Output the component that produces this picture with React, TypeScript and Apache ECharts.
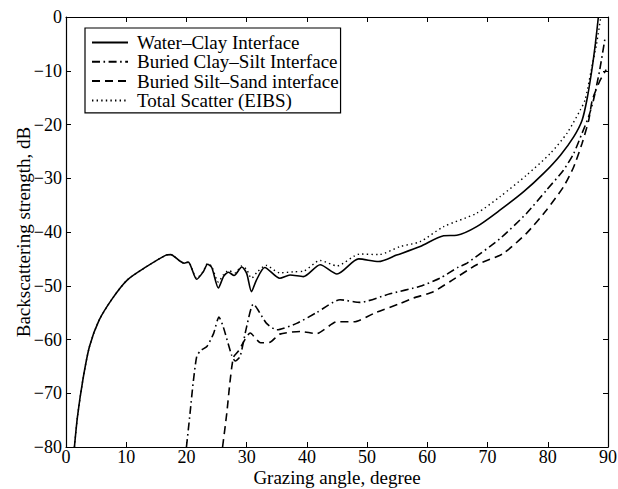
import React, { useEffect, useRef } from "react";
import * as echarts from "echarts";

const seriesNames = [
  "Water–Clay Interface",
  "Buried Clay–Silt Interface",
  "Buried Silt–Sand interface",
  "Total Scatter (EIBS)",
];

// Water–Clay Interface
const angleWC = [1.4, 1.9, 2.8, 3.9, 5.5, 7.75, 10.2, 13.3, 16.6, 17.4, 18.9, 19.6, 20.3, 21.7, 22.8, 23.5, 24.2, 25.3, 26.2, 27.0, 27.9, 29.2, 30.0, 30.8, 31.6, 33.0, 35.5, 37.2, 39.4, 42.2, 45.0, 48.6, 51.9, 54.9, 58.8, 62.7, 64.9, 68.2, 72.1, 76.0, 79.3, 82.1, 84.3, 85.7, 86.5, 87.3, 87.9, 88.4];
const dbWC = [-80, -74.4, -67.5, -61.3, -56.4, -52.3, -48.9, -46.5, -44.3, -44.2, -45.4, -45.8, -45.6, -48.8, -47.4, -46.0, -46.6, -50.4, -48.2, -47.5, -48.1, -46.5, -47.7, -51.1, -49.0, -46.6, -48.6, -48.0, -48.3, -46.1, -47.8, -45.0, -45.5, -44.3, -42.7, -40.7, -40.6, -39.0, -35.9, -32.5, -29.1, -25.7, -22.3, -19.2, -15.4, -10, -5, 0];

// Buried Clay–Silt Interface
const angleCS = [20.0, 20.6, 21.1, 21.7, 22.3, 23.4, 24.5, 25.4, 26.1, 27.5, 28.1, 28.9, 30.0, 31.1, 33.3, 35.0, 38.3, 41.6, 45.5, 48.8, 53.8, 58.8, 62.1, 65.2, 66.6, 72.1, 76.5, 79.8, 82.6, 84.3, 85.7, 86.8, 87.6, 88.6, 89.5];
const dbCS = [-80, -73.7, -68.2, -63.2, -62.1, -61.3, -58.9, -55.8, -57.6, -62.9, -64.0, -63.2, -57.6, -53.4, -57.0, -58.2, -57.0, -55.0, -52.6, -53.1, -51.5, -50.1, -48.6, -46.5, -45.8, -41.2, -36.5, -32.2, -28.5, -25.4, -21.6, -18.5, -15.4, -10, -4];

// Buried Silt–Sand interface
const angleSS = [26.0, 26.7, 27.2, 27.8, 28.6, 30.6, 32.3, 33.9, 35.5, 38.9, 41.6, 45.0, 47.8, 51.6, 55.5, 57.7, 61.0, 63.8, 68.2, 72.6, 76.5, 79.8, 82.6, 84.3, 85.7, 86.8, 87.4, 88.6, 89.7];
const dbSS = [-80, -73.7, -68.2, -63.3, -62.2, -58.8, -60.6, -60.5, -59.0, -58.5, -58.9, -56.7, -56.7, -54.9, -53.3, -52.3, -51.1, -49.2, -46.1, -44.0, -40.2, -35.9, -31.6, -27.9, -23.5, -19.2, -15.4, -12, -9.8];

// Total Scatter (EIBS)
const angleTS = [1.4, 1.9, 2.8, 3.9, 5.5, 7.75, 10.2, 13.3, 16.6, 17.4, 18.9, 19.6, 20.3, 21.7, 22.8, 23.5, 24.2, 25.3, 26.1, 27.0, 28.1, 29.2, 30.0, 30.8, 31.8, 33.2, 35.5, 37.8, 39.4, 42.2, 45.0, 48.8, 51.9, 55.5, 58.8, 62.7, 68.2, 72.1, 76.5, 80.4, 83.2, 85.4, 86.2, 87.2, 88.1, 88.8];
const dbTS = [-80, -74.4, -67.5, -61.3, -56.4, -52.3, -48.9, -46.5, -44.3, -44.2, -45.4, -45.8, -45.6, -48.6, -47.3, -45.9, -46.4, -49.3, -48.0, -47.2, -47.6, -46.3, -47.0, -48.6, -47.4, -46.2, -47.6, -47.4, -47.3, -45.3, -46.3, -44.1, -44.2, -42.7, -41.8, -39.0, -36.5, -33.4, -29.4, -25.4, -21.6, -17.3, -15.4, -10, -5, 0];

const xMin = 0;
const xMax = 90;
const xStep = 10;
const yMin = -80;
const yMax = 0;
const yStep = 10;

const zip = (xs: number[], ys: number[]) => xs.map((x, i) => [x, ys[i]]);

const FONT = "Liberation Serif, Times New Roman, serif";

export default function App() {
  const ref = useRef<HTMLDivElement>(null);
  useEffect(() => {
    if (!ref.current) return;
    const chart = echarts.init(ref.current, undefined, { renderer: "svg" });
    const axisCommon = {
      axisLine: { show: true, onZero: false, lineStyle: { color: "#000", width: 1.2 } },
      axisTick: { show: true, inside: true, length: 5, lineStyle: { color: "#000" } },
      splitLine: { show: false },
    };
    const fmt = (v: number) => String(v).replace("-", "\u2212");
    chart.setOption({
      animation: false,
      backgroundColor: "#fff",
      grid: { left: 66, right: 10, top: 17, bottom: 42, containLabel: false, outerBoundsMode: "none" },
      legend: {
        data: seriesNames,
        orient: "vertical",
        left: 85,
        top: 28,
        backgroundColor: "#fff",
        borderColor: "#000",
        borderWidth: 1.2,
        borderRadius: 0,
        padding: [5, 2, 3, 6],
        itemGap: 0.3,
        itemWidth: 36,
        itemHeight: 14,
        itemStyle: { color: "rgba(0,0,0,0)", borderWidth: 0, opacity: 0 },
        textStyle: { fontFamily: FONT, fontSize: 19, lineHeight: 19, color: "#000", padding: [0, 0, 0, 4] },
      },
      xAxis: [
        {
          type: "value",
          min: xMin,
          max: xMax,
          interval: xStep,
          position: "bottom",
          name: "Grazing angle, degree",
          nameLocation: "middle",
          nameGap: 21,
          nameMoveOverlap: false,
          nameTextStyle: { fontFamily: FONT, fontSize: 19, lineHeight: 18, color: "#000" },
          axisLabel: { fontFamily: FONT, fontSize: 18, lineHeight: 15, color: "#000", margin: 2, formatter: fmt },
          ...axisCommon,
        },
        {
          type: "value",
          min: xMin,
          max: xMax,
          interval: xStep,
          position: "top",
          axisLabel: { show: false },
          ...axisCommon,
        },
      ],
      yAxis: [
        {
          type: "value",
          min: yMin,
          max: yMax,
          interval: yStep,
          position: "left",
          name: "Backscattering strength, dB",
          nameLocation: "middle",
          nameGap: 33,
          nameMoveOverlap: false,
          nameTextStyle: { fontFamily: FONT, fontSize: 19, lineHeight: 19, color: "#000" },
          axisLabel: { fontFamily: FONT, fontSize: 18, lineHeight: 15, color: "#000", margin: 4, formatter: fmt },
          ...axisCommon,
        },
        {
          type: "value",
          min: yMin,
          max: yMax,
          interval: yStep,
          position: "right",
          axisLabel: { show: false },
          ...axisCommon,
        },
      ],
      series: [
        {
          name: seriesNames[0],
          type: "line",
          data: zip(angleWC, dbWC),
          symbol: "none",
          smooth: 0.25,
          lineStyle: { color: "#000", width: 1.6, type: "solid" },
          itemStyle: { color: "#000" },
        },
        {
          name: seriesNames[1],
          type: "line",
          data: zip(angleCS, dbCS),
          symbol: "none",
          smooth: 0.2,
          lineStyle: { color: "#000", width: 1.6, type: [8, 3.5, 1.6, 3.5] },
          itemStyle: { color: "#000" },
        },
        {
          name: seriesNames[2],
          type: "line",
          data: zip(angleSS, dbSS),
          symbol: "none",
          smooth: 0.2,
          lineStyle: { color: "#000", width: 1.6, type: [8, 5] },
          itemStyle: { color: "#000" },
        },
        {
          name: seriesNames[3],
          type: "line",
          data: zip(angleTS, dbTS),
          symbol: "none",
          smooth: 0.25,
          lineStyle: { color: "#000", width: 1.4, type: [1.4, 3.2] },
          itemStyle: { color: "#000" },
        },
      ],
    });
    return () => chart.dispose();
  }, []);
  return (
    <div
      ref={ref}
      style={{ position: "fixed", left: 0, top: 0, width: 618, height: 489, background: "#fff" }}
    />
  );
}
